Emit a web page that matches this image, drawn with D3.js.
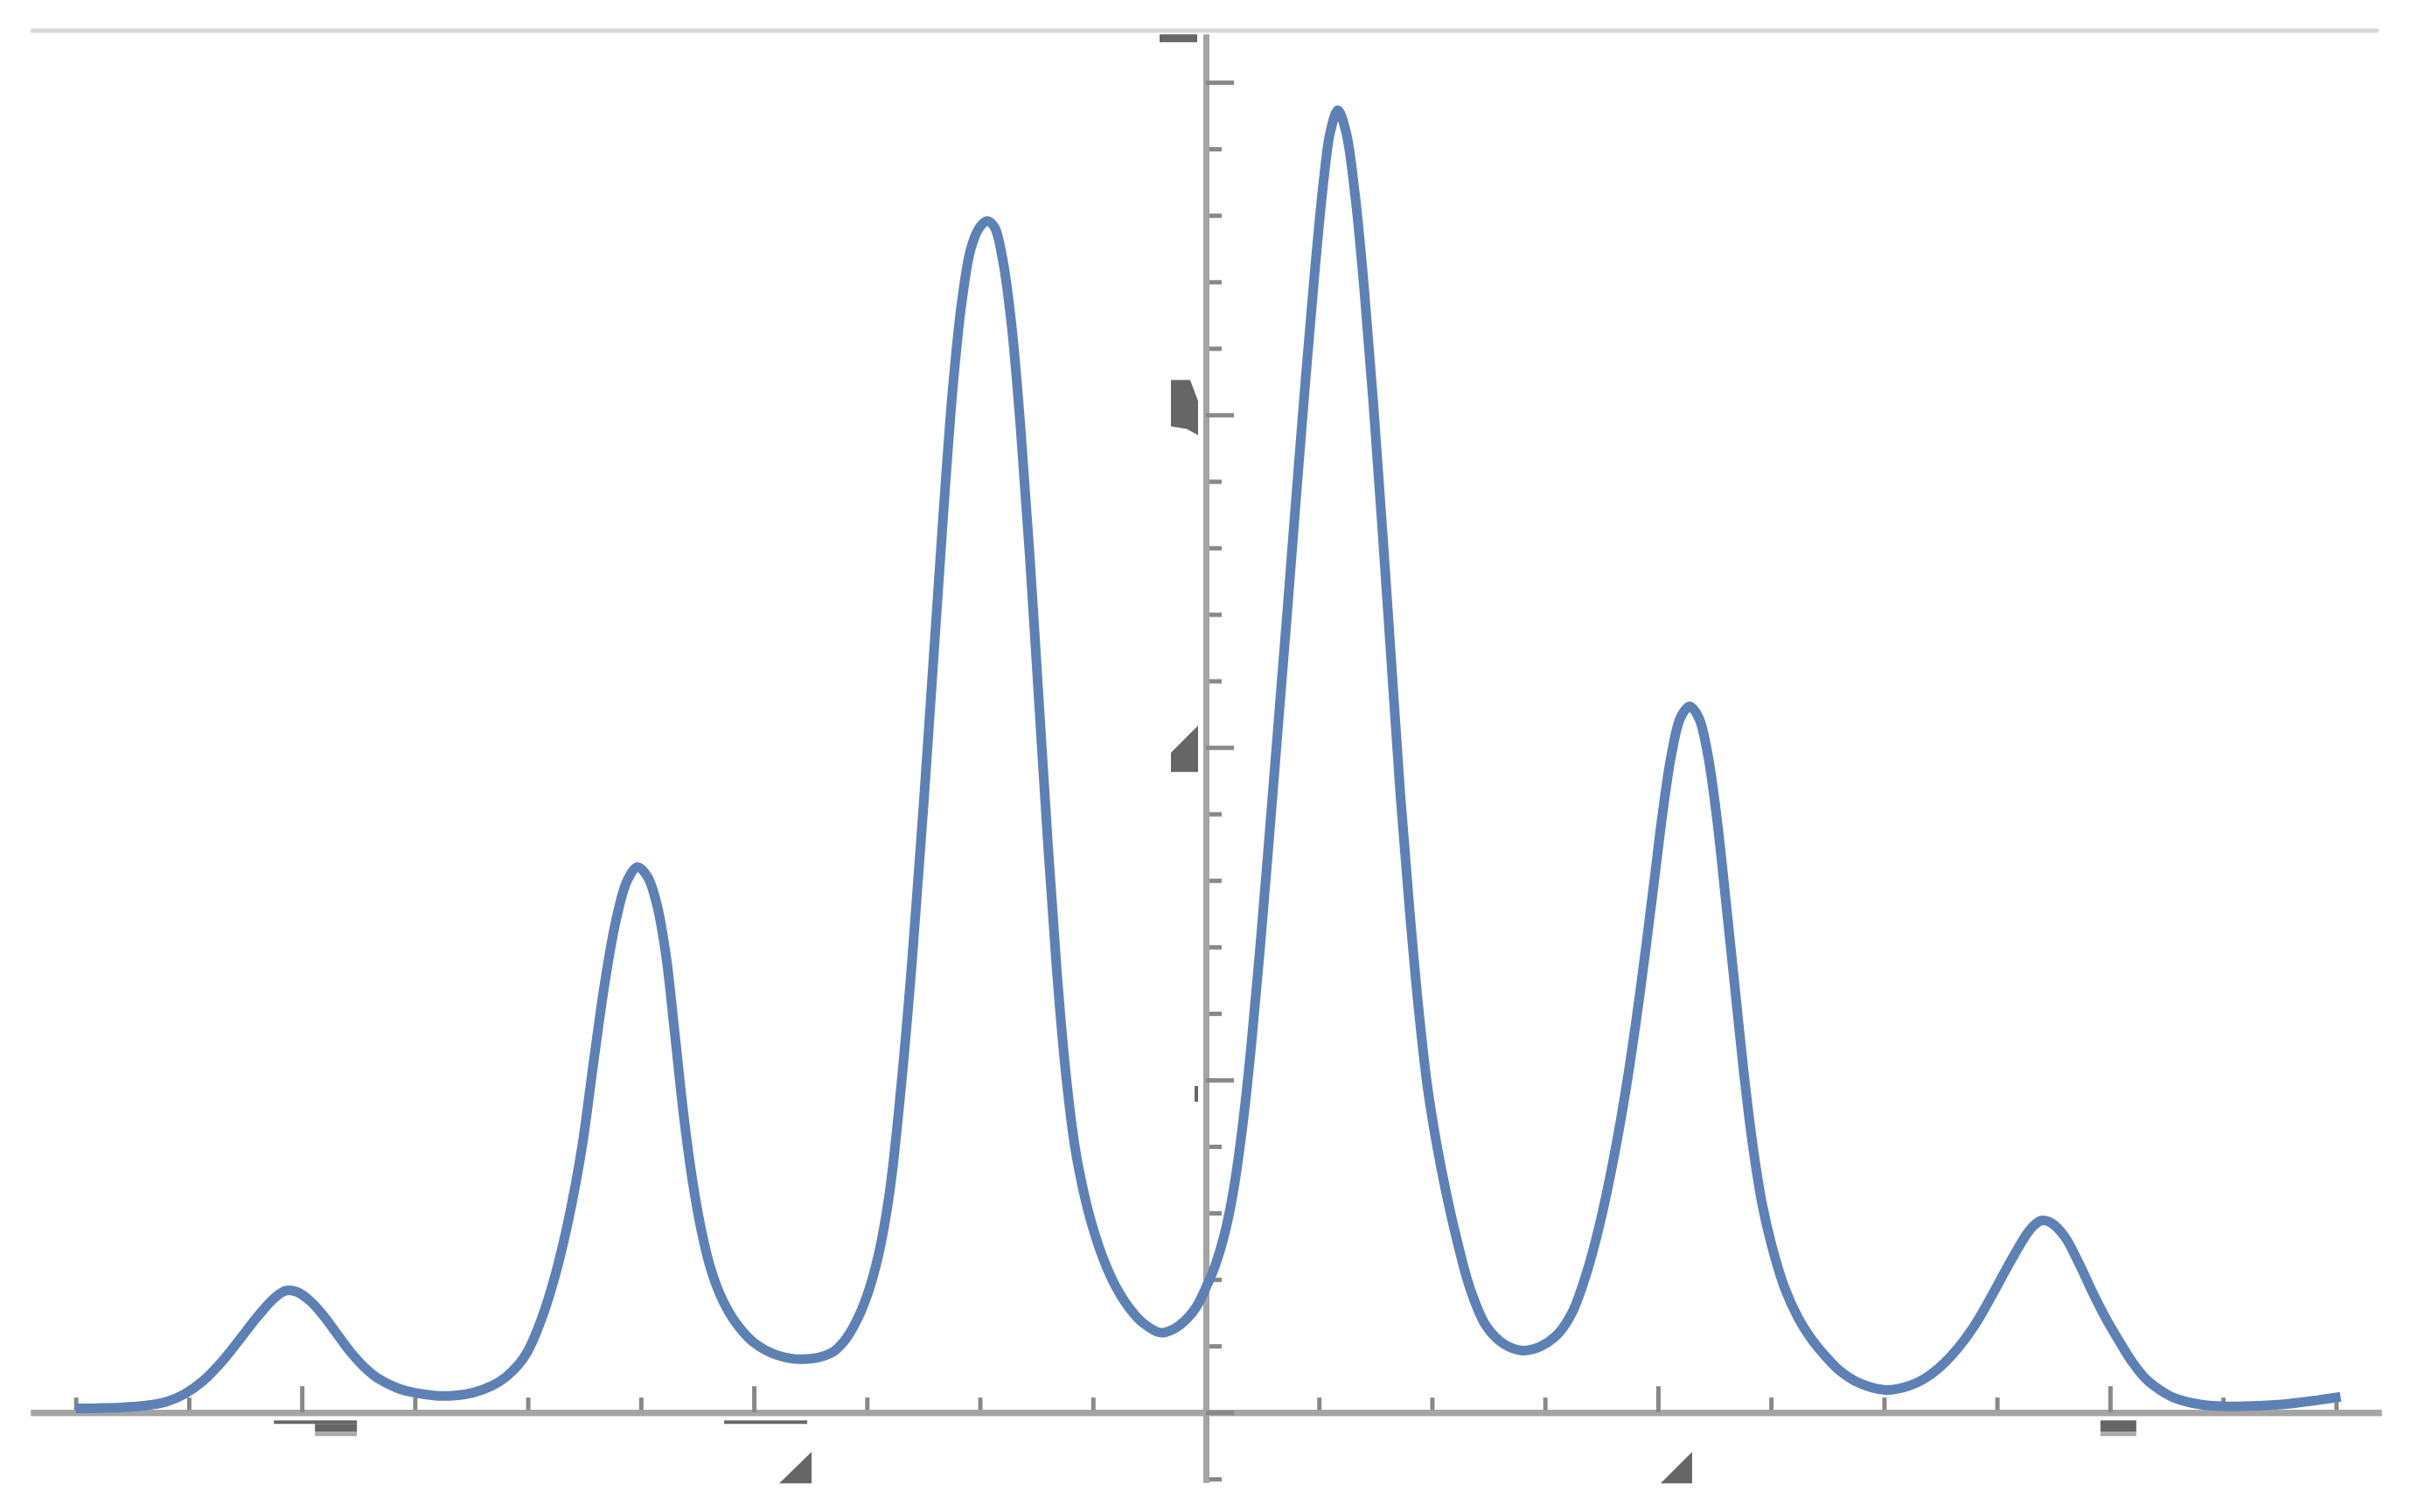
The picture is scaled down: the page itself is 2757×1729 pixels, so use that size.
<!DOCTYPE html>
<html>
<head>
<meta charset="utf-8">
<script src="https://cdn.jsdelivr.net/npm/d3@7"></script>
<style>
  html, body { margin: 0; padding: 0; background: #fff; overflow: hidden; }
  svg { display: block; }
</style>
</head>
<body>
<svg id="chart"></svg>
<script>
let width = 2757, height = 1729;

// curve samples (x, f(x))
const curveX = [
  -2.50, -2.45, -2.40, -2.35, -2.30, -2.26, -2.22, -2.18, -2.14, -2.10,
  -2.06, -2.035, -2.01, -1.98, -1.95, -1.92, -1.89, -1.86, -1.83, -1.79,
  -1.75, -1.70, -1.66, -1.62, -1.58, -1.55, -1.52, -1.50, -1.47, -1.44,
  -1.41, -1.38, -1.355, -1.33, -1.305, -1.28, -1.257, -1.235, -1.215, -1.195,
  -1.175, -1.155, -1.135, -1.115, -1.095, -1.07, -1.04, -1.00, -0.95, -0.89,
  -0.83, -0.80, -0.775, -0.75, -0.725, -0.70, -0.675, -0.65, -0.625, -0.60,
  -0.58, -0.56, -0.54, -0.52, -0.50, -0.484, -0.468, -0.45, -0.43, -0.41,
  -0.39, -0.37, -0.35, -0.33, -0.31, -0.29, -0.27, -0.25, -0.225, -0.20,
  -0.17, -0.14, -0.10, -0.07, -0.04, -0.02, 0.00, 0.02, 0.04, 0.06,
  0.08, 0.10, 0.12, 0.14, 0.16, 0.18, 0.20, 0.22, 0.24, 0.26,
  0.275, 0.292, 0.31, 0.33, 0.35, 0.37, 0.39, 0.41, 0.43, 0.45,
  0.47, 0.49, 0.51, 0.53, 0.555, 0.585, 0.62, 0.66, 0.70, 0.74,
  0.78, 0.81, 0.84, 0.87, 0.90, 0.93, 0.96, 0.99, 1.01, 1.03,
  1.05, 1.07, 1.09, 1.11, 1.13, 1.15, 1.17, 1.19, 1.21, 1.23,
  1.25, 1.28, 1.31, 1.34, 1.37, 1.40, 1.44, 1.50, 1.53, 1.56,
  1.59, 1.62, 1.65, 1.68, 1.71, 1.74, 1.77, 1.795, 1.815, 1.83,
  1.848, 1.87, 1.90, 1.93, 1.96, 1.99, 2.02, 2.05, 2.08, 2.11,
  2.14, 2.20, 2.265, 2.33, 2.395, 2.46, 2.51
];
const curveY = [
  0.012, 0.013, 0.015, 0.020, 0.032, 0.055, 0.093, 0.148, 0.215, 0.285,
  0.345, 0.366, 0.362, 0.333, 0.287, 0.232, 0.178, 0.134, 0.101, 0.074,
  0.059, 0.050, 0.051, 0.060, 0.080, 0.105, 0.145, 0.185, 0.280, 0.410,
  0.580, 0.800, 1.050, 1.290, 1.480, 1.600, 1.640, 1.610, 1.530, 1.380,
  1.140, 0.890, 0.690, 0.540, 0.430, 0.340, 0.270, 0.210, 0.173, 0.160,
  0.178, 0.215, 0.270, 0.350, 0.470, 0.660, 0.970, 1.360, 1.820, 2.320,
  2.720, 3.080, 3.340, 3.500, 3.565, 3.583, 3.565, 3.470, 3.270, 2.960,
  2.580, 2.150, 1.720, 1.330, 1.020, 0.800, 0.660, 0.555, 0.455, 0.380,
  0.315, 0.270, 0.240, 0.252, 0.285, 0.320, 0.375, 0.440, 0.530, 0.660,
  0.850, 1.100, 1.400, 1.730, 2.070, 2.410, 2.760, 3.100, 3.420, 3.700,
  3.850, 3.916, 3.850, 3.660, 3.380, 3.040, 2.660, 2.260, 1.860, 1.520,
  1.220, 0.980, 0.810, 0.670, 0.520, 0.370, 0.260, 0.205, 0.186, 0.198,
  0.238, 0.300, 0.410, 0.560, 0.750, 0.980, 1.260, 1.580, 1.800, 1.980,
  2.090, 2.123, 2.090, 1.980, 1.790, 1.540, 1.280, 1.020, 0.800, 0.630,
  0.510, 0.375, 0.285, 0.220, 0.170, 0.128, 0.092, 0.068, 0.071, 0.082,
  0.102, 0.132, 0.172, 0.222, 0.283, 0.355, 0.430, 0.490, 0.535, 0.560,
  0.577, 0.570, 0.528, 0.452, 0.365, 0.285, 0.215, 0.150, 0.100, 0.068,
  0.045, 0.024, 0.018, 0.020, 0.026, 0.037, 0.047
];

// tick positions
const xMajorTicks = [-2, -1, 0, 1, 2];
const xMinorTicks = [-2.5, -2.25, -1.75, -1.5, -1.25, -0.75, -0.5, -0.25,
                     0.25, 0.5, 0.75, 1.25, 1.5, 1.75, 2.25, 2.5];
const yMajorTicks = [0, 1, 2, 3, 4];
const yMinorTicks = [-0.2, 0.2, 0.4, 0.6, 0.8, 1.2, 1.4, 1.6, 1.8, 2.2, 2.4, 2.6, 2.8,
                     3.2, 3.4, 3.6, 3.8];

const data = curveX.map((x, i) => ({ x: x, y: curveY[i] }));

const svg = d3.select("#chart")
    .attr("width", width)
    .attr("height", height)
    .attr("viewBox", [0, 0, width, height].join(" "));

svg.append("rect").attr("width", width).attr("height", height).attr("fill", "#fff");

const x = d3.scaleLinear().domain([-2.6, 2.6]).range([35, 2723]);
const y = d3.scaleLinear().domain([-0.21, 4.145]).range([1695, 39]);

// faint frame line on top
svg.append("line")
    .attr("x1", 35).attr("x2", 2720)
    .attr("y1", 35).attr("y2", 35)
    .attr("stroke", "#d9d9d9")
    .attr("stroke-width", 5);

// x axis, ticks pointing up into the plot
const xAxisG = svg.append("g").attr("transform", `translate(0,${y(0)})`);
xAxisG.append("g")
    .call(d3.axisTop(x).tickValues(xMinorTicks).tickSize(17).tickSizeOuter(0).tickFormat(""));
xAxisG.append("g")
    .call(d3.axisTop(x).tickValues(xMajorTicks).tickSize(30).tickSizeOuter(0).tickFormat(""));

// y axis, ticks pointing right
const yAxisG = svg.append("g").attr("transform", `translate(${x(0)},0)`);
yAxisG.append("g")
    .call(d3.axisRight(y).tickValues(yMinorTicks).tickSize(18).tickSizeOuter(0).tickFormat(""));
yAxisG.append("g")
    .call(d3.axisRight(y).tickValues(yMajorTicks).tickSize(32).tickSizeOuter(0).tickFormat(""));

svg.selectAll(".domain")
    .attr("stroke", "#a4a4a4")
    .attr("stroke-width", 7);
svg.selectAll(".tick line")
    .attr("stroke", "#888")
    .attr("stroke-width", 5);

// clipped tick label pieces (only slivers of the glyphs are visible)
const frag = svg.append("g").attr("fill", "#666");
const X0 = x(0), Y0 = y(0);

function xFrag(v, shapes) {
  const g = frag.append("g").attr("transform", `translate(${x(v)},${Y0})`);
  shapes.forEach(s => g.append("polygon").attr("points", s.p.map(d => d.join(",")).join(" "))
      .attr("fill", s.c || "#666"));
}
function yFrag(v, shapes) {
  const g = frag.append("g").attr("transform", `translate(${X0},${y(v)})`);
  shapes.forEach(s => g.append("polygon").attr("points", s.p.map(d => d.join(",")).join(" "))
      .attr("fill", s.c || "#666"));
}

xFrag(-2, [
  { p: [[-32, 9], [63, 9], [63, 13], [-32, 13]] },
  { p: [[15, 13], [63, 13], [63, 22], [15, 22]] },
  { p: [[15, 22], [63, 22], [63, 27], [15, 27]], c: "#aaa" }
]);
xFrag(-1, [
  { p: [[-34, 9], [61, 9], [61, 13], [-34, 13]] },
  { p: [[29, 81], [66, 45], [66, 81]] }
]);
xFrag(1, [
  { p: [[3, 81], [39, 45], [39, 81]] }
]);
xFrag(2, [
  { p: [[-11, 9], [30, 9], [30, 22], [-11, 22]] },
  { p: [[-11, 22], [30, 22], [30, 27], [-11, 27]], c: "#aaa" }
]);

yFrag(4, [
  { p: [[-53, -55], [-10, -55], [-10, -46], [-53, -46]] }
]);
yFrag(3, [
  { p: [[-40, -40], [-18, -40], [-9, -16], [-9, 23], [-22, 16], [-40, 13]] }
]);
yFrag(2, [
  { p: [[-40, 6], [-9, -25], [-9, 28], [-40, 28]] }
]);
yFrag(1, [
  { p: [[-13, 7], [-9, 7], [-9, 25], [-13, 25]] }
]);

// the curve
const line = d3.line()
    .curve(d3.curveCatmullRom.alpha(0.5))
    .x(d => x(d.x))
    .y(d => y(d.y));

svg.append("path")
    .datum(data)
    .attr("d", line)
    .attr("fill", "none")
    .attr("stroke", "#5e81b5")
    .attr("stroke-width", 11)
    .attr("stroke-linejoin", "round")
    .attr("stroke-linecap", "butt");
</script>
</body>
</html>
